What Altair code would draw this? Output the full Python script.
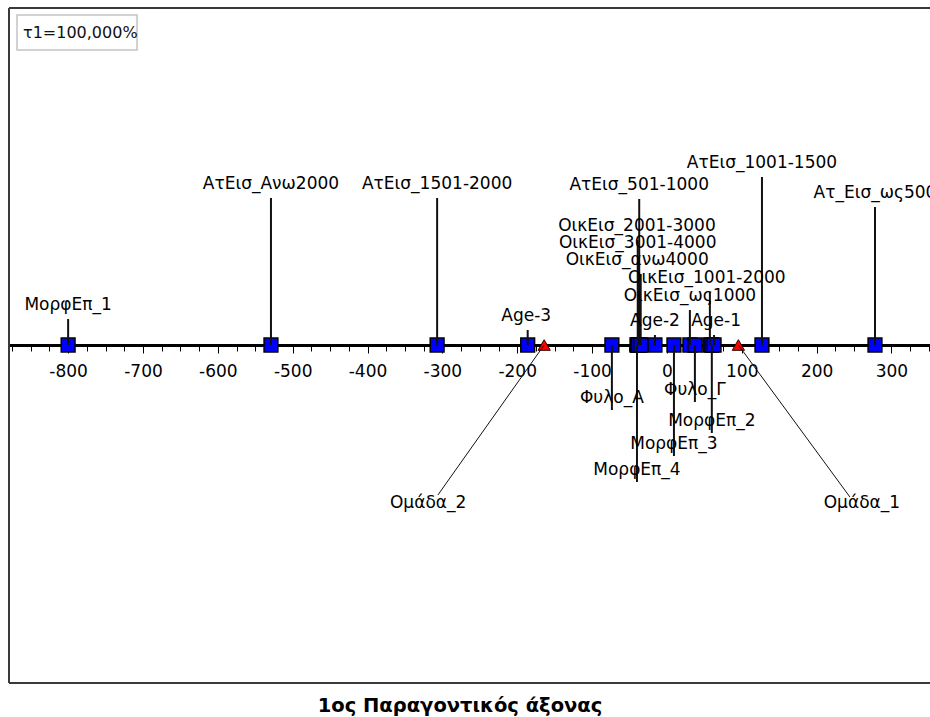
import altair as alt
import pandas as pd

# Category points and group centroids on the first factorial axis
names = [
    "ΜορφΕπ_1", "ΑτΕισ_Ανω2000", "ΑτΕισ_1501-2000", "Age-3", "Φυλο_Α",
    "ΜορφΕπ_4", "ΑτΕισ_501-1000", "ΟικΕισ_2001-3000", "ΟικΕισ_3001-4000",
    "ΟικΕισ_ανω4000", "Age-2", "ΜορφΕπ_3", "ΟικΕισ_ως1000", "Φυλο_Γ",
    "ΟικΕισ_1001-2000", "ΜορφΕπ_2", "Age-1", "ΑτΕισ_1001-1500",
    "Ατ_Εισ_ως500", "Ομάδα_1", "Ομάδα_2",
]
axis1 = [
    -800, -529, -307, -186, -73.5,
    -40, -37, -39, -38,
    -35, -16, 9.4, 30.7, 37.4,
    57.4, 60, 63, 127,
    278, 95.5, -164,
]
kinds = ["var"] * 19 + ["group"] * 2

# Label placement (screen layout): vertical label row, horizontal nudge in axis units,
# and which side of the axis the label sits on
label_row = [
    297, 176, 176, 308, 390,
    462, 177, 218, 235,
    252, 313, 436, 288, 382,
    270, 413, 313, 155,
    185, 495, 495,
]
label_nudge = [
    0, 0, 0, -2, 0,
    0, 0, -1, -1,
    -4.7, 0, 0, 0, 0,
    -4, 0, 2.7, 0,
    0, 165, -155,
]
side = ["up", "up", "up", "up", "down",
        "down", "up", "up", "up",
        "up", "up", "down", "up", "down",
        "up", "down", "up", "up",
        "up", "down", "down"]
# end of the slanted connector for group labels (axis units, screen row)
group_link_x = {"Ομάδα_1": 244.5, "Ομάδα_2": -306}
group_link_y = {"Ομάδα_1": 489, "Ομάδα_2": 487}

title_text = "1ος Παραγοντικός άξονας"
inertia_text = "τ1=100,000%"

W, H = 921, 675
AXIS_Y = 337

df = pd.DataFrame({"name": names, "f1": axis1, "kind": kinds,
                   "row": label_row, "nudge": label_nudge, "side": side})
df["lx"] = df["f1"] + df["nudge"]
df["ay"] = AXIS_Y
df["lead_y"] = [r + 14 if s == "up" else r + 12 for r, s in zip(df["row"], df["side"])]
df["link_x"] = [group_link_x.get(n, f) for n, f in zip(df["name"], df["f1"])]
df["link_y"] = [group_link_y.get(n, ly) for n, ly in zip(df["name"], df["lead_y"])]

variables = df[df["kind"] == "var"]
groups = df[df["kind"] == "group"]

xscale = alt.Scale(domain=[-879, 351.5], nice=False, zero=False)
yscale = alt.Scale(domain=[0, H], range=[0, H], nice=False, zero=False)

tick_values = list(range(-875, 351, 25))
xaxis = alt.Axis(
    values=tick_values, orient="bottom", offset=-(H - AXIS_Y), grid=False, title=None,
    domainColor="black", domainWidth=3,
    tickColor="black", tickWidth=1,
    tickSize={"condition": {"test": "datum.value % 100 === 0", "value": 8}, "value": 6},
    labelExpr="datum.value % 100 === 0 ? toString(datum.value) : ''",
    labelFont="DejaVu Sans", labelFontSize=17, labelColor="black",
    labelPadding=10, labelOverlap=False, labelFlush=False,
)


def X(field):
    return alt.X(field, type="quantitative", scale=xscale, axis=xaxis)


def Y(field):
    return alt.Y(field, type="quantitative", scale=yscale, axis=None)


# plot frame (left, top, bottom edges)
frame = alt.Chart(pd.DataFrame({"k": [0]})).mark_rule(color="#3a3a3a", strokeWidth=2)
frame_left = frame.encode(x=alt.value(0), y=alt.value(0), y2=alt.value(H))
frame_top = frame.encode(x=alt.value(0), x2=alt.value(W), y=alt.value(0))
frame_bottom = frame.encode(x=alt.value(0), x2=alt.value(W), y=alt.value(H))

# inertia box in the upper-left corner
box = alt.Chart(pd.DataFrame({"t": [inertia_text]})).mark_rect(
    fill="white", stroke="#c4c4c4", strokeWidth=1.5
).encode(x=alt.value(8), x2=alt.value(128), y=alt.value(7), y2=alt.value(42))
box_text = alt.Chart(pd.DataFrame({"t": [inertia_text]})).mark_text(
    font="DejaVu Sans", fontSize=16, color="#111", align="left", baseline="middle"
).encode(x=alt.value(14), y=alt.value(25), text="t:N")

squares = alt.Chart(variables).mark_point(
    shape="square", filled=True, fill="#0000ff", stroke="black", strokeWidth=1.5,
    size=190, opacity=1
).encode(x=X("f1"), y=Y("ay"))

triangles = alt.Chart(groups).mark_point(
    shape="triangle-up", filled=True, fill="#ff0000", stroke="#300000", strokeWidth=1,
    size=150, opacity=1
).encode(x=X("f1"), y=Y("ay"))

leaders = alt.Chart(variables).mark_rule(color="#111", strokeWidth=2).encode(
    x=X("f1"), y=Y("ay"), y2="lead_y:Q"
)
links = alt.Chart(groups).mark_rule(color="#111", strokeWidth=1).encode(
    x=X("f1"), x2="link_x:Q", y=Y("ay"), y2="link_y:Q"
)

labels = alt.Chart(df).mark_text(
    font="DejaVu Sans", fontSize=17, color="black", align="center", baseline="middle"
).encode(x=X("lx"), y=Y("row"), text="name:N")

title = alt.Chart(pd.DataFrame({"t": [title_text]})).mark_text(
    font="DejaVu Sans", fontSize=19.5, fontWeight="bold", color="black",
    align="center", baseline="middle"
).encode(x=alt.value(451), y=alt.value(698), text="t:N")

chart = alt.layer(
    frame_left, frame_top, frame_bottom, box, box_text,
    squares, triangles, leaders, links, labels, title
).properties(
    width=W, height=H,
    autosize=alt.AutoSizeParams(type="none"),
    padding={"left": 9, "top": 8, "right": 0, "bottom": 34},
).configure_view(stroke=None).configure(background="white")

chart.save("out.html", embed_options={"renderer": "svg", "actions": False})
